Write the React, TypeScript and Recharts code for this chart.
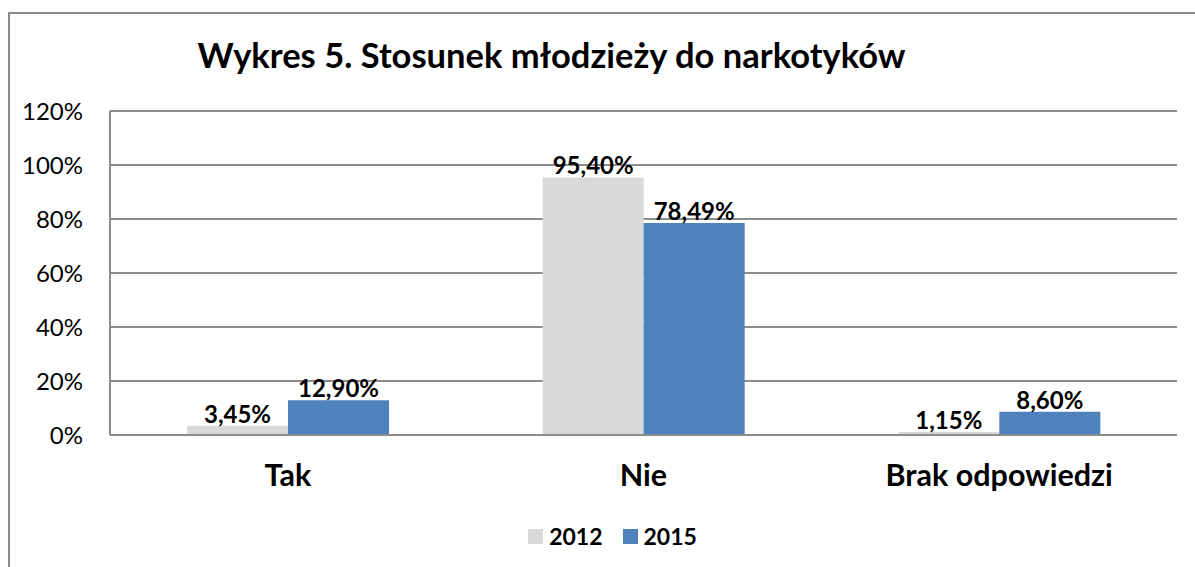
import React from "react";
import { BarChart, Bar, XAxis, YAxis, CartesianGrid, LabelList } from "recharts";

const categories = ["Tak", "Nie", "Brak odpowiedzi"];
const values2012 = [3.45, 95.4, 1.15];
const values2015 = [12.9, 78.49, 8.6];
const yTicks = [0, 20, 40, 60, 80, 100, 120];

const data = categories.map((name, i) => ({
  name,
  y2012: values2012[i],
  y2015: values2015[i],
}));

const FONT = "Lato, 'Open Sans', sans-serif";
const GRID = "#8c8c8c";
const GRAY = "#d9d9d9";
const BLUE = "#4f81bd";

const fmt = (v: any) => `${Number(v).toFixed(2).replace(".", ",")}%`;

const legendItems = [
  { label: "2012", color: GRAY },
  { label: "2015", color: BLUE },
];

export default function App() {
  return (
    <div
      style={{
        position: "fixed",
        left: 0,
        top: 0,
        width: 1195,
        height: 567,
        overflow: "hidden",
        background: "#fff",
      }}
    >
      {/* outer frame, only top and left edges are visible */}
      <div
        style={{
          position: "absolute",
          left: 8,
          top: 12,
          width: 1400,
          height: 700,
          borderTop: `2px solid ${GRID}`,
          borderLeft: `2px solid ${GRID}`,
        }}
      />
      <div
        style={{
          position: "absolute",
          left: 0,
          top: 35,
          width: 1103,
          textAlign: "center",
          fontFamily: FONT,
          fontWeight: 700,
          fontSize: 34.5,
          lineHeight: "40px",
          color: "#000",
        }}
      >
        Wykres 5. Stosunek młodzieży do narkotyków
      </div>
      <div style={{ position: "absolute", left: 0, top: 0 }}>
        <BarChart
          width={1195}
          height={567}
          data={data}
          margin={{ top: 111, right: 18, bottom: 72, left: 10 }}
          barGap={0}
        >
          <CartesianGrid vertical={false} stroke={GRID} strokeWidth={2} />
          <XAxis
            dataKey="name"
            tickLine={false}
            tickSize={0}
            tickMargin={29}
            axisLine={{ stroke: GRID, strokeWidth: 2 }}
            tick={{ fill: "#000", fontFamily: FONT, fontWeight: 700, fontSize: 30.5 }}
            height={60}
          />
          <YAxis
            width={100}
            domain={[0, 120]}
            ticks={yTicks}
            tickFormatter={(v) => `${v}%`}
            tickLine={false}
            tickSize={0}
            tickMargin={27}
            axisLine={{ stroke: GRID, strokeWidth: 2 }}
            tick={{ fill: "#000", fontFamily: FONT, fontSize: 24 }}
          />
          <Bar dataKey="y2012" name="2012" fill={GRAY} barSize={101} isAnimationActive={false}>
            <LabelList
              dataKey="y2012"
              position="top"
              offset={3}
              formatter={fmt}
              style={{ fill: "#000", fontFamily: FONT, fontWeight: 700, fontSize: 24 }}
            />
          </Bar>
          <Bar dataKey="y2015" name="2015" fill={BLUE} barSize={101} isAnimationActive={false}>
            <LabelList
              dataKey="y2015"
              position="top"
              offset={3}
              formatter={fmt}
              style={{ fill: "#000", fontFamily: FONT, fontWeight: 700, fontSize: 24 }}
            />
          </Bar>
        </BarChart>
      </div>
      {/* legend */}
      <div
        style={{
          position: "absolute",
          left: 30,
          top: 522,
          width: 1165,
          display: "flex",
          justifyContent: "center",
          alignItems: "center",
          gap: 20,
          fontFamily: FONT,
          fontWeight: 700,
          fontSize: 23,
          lineHeight: "28px",
          color: "#000",
        }}
      >
        {legendItems.map((it) => (
          <div key={it.label} style={{ display: "flex", alignItems: "center", gap: 6 }}>
            <span style={{ width: 15, height: 15, background: it.color, display: "inline-block" }} />
            <span>{it.label}</span>
          </div>
        ))}
      </div>
    </div>
  );
}
